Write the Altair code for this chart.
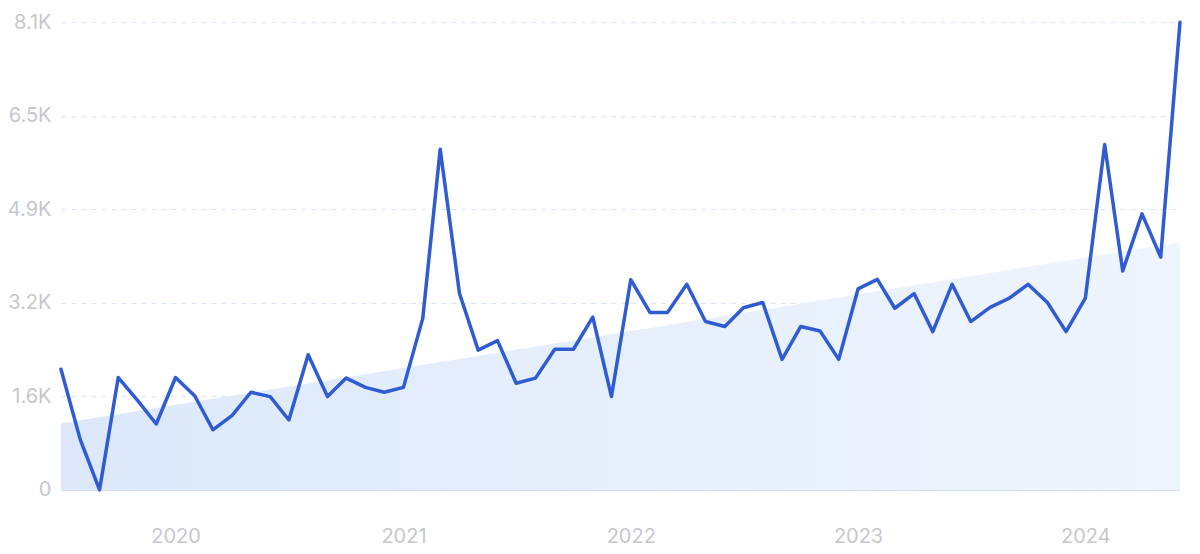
import altair as alt
import pandas as pd

months = [
    "2019-07", "2019-08", "2019-09", "2019-10", "2019-11", "2019-12",
    "2020-01", "2020-02", "2020-03", "2020-04", "2020-05", "2020-06",
    "2020-07", "2020-08", "2020-09", "2020-10", "2020-11", "2020-12",
    "2021-01", "2021-02", "2021-03", "2021-04", "2021-05", "2021-06",
    "2021-07", "2021-08", "2021-09", "2021-10", "2021-11", "2021-12",
    "2022-01", "2022-02", "2022-03", "2022-04", "2022-05", "2022-06",
    "2022-07", "2022-08", "2022-09", "2022-10", "2022-11", "2022-12",
    "2023-01", "2023-02", "2023-03", "2023-04", "2023-05", "2023-06",
    "2023-07", "2023-08", "2023-09", "2023-10", "2023-11", "2023-12",
    "2024-01", "2024-02", "2024-03", "2024-04", "2024-05", "2024-06",
]
volume = [
    2090, 870, 0, 1945, 1550, 1140,
    1945, 1625, 1040, 1290, 1690, 1615,
    1210, 2340, 1615, 1935, 1775, 1690,
    1775, 2970, 5900, 3400, 2420, 2585,
    1845, 1935, 2435, 2435, 2990, 1615,
    3640, 3070, 3070, 3560, 2915, 2830,
    3155, 3245, 2260, 2830, 2750, 2260,
    3480, 3645, 3145, 3400, 2740, 3560,
    2915, 3160, 3320, 3560, 3245, 2740,
    3320, 5980, 3790, 4780, 4030, 8100,
]
trend_months = ["2019-07", "2024-06"]
trend_values = [1150, 4290]
y_ticks = [0, 1620, 3240, 4860, 6480, 8100]
x_tick_years = [2020, 2021, 2022, 2023, 2024]

df = pd.DataFrame({"date": [m + "-01" for m in months], "value": volume})
trend = pd.DataFrame({"date": [m + "-01" for m in trend_months], "value": trend_values})

FONT = "Inter"
LABEL_COLOR = "#c6c7ce"

x_scale = alt.Scale(domain=[alt.DateTime(year=2019, month=7, date=1),
                            alt.DateTime(year=2024, month=6, date=1)], nice=False)
y_scale = alt.Scale(domain=[0, 8100], nice=False, zero=True)

x_axis = alt.Axis(
    title=None,
    values=[alt.DateTime(year=y, month=1, date=1) for y in x_tick_years],
    format="%Y",
    grid=False,
    ticks=False,
    domain=True,
    domainColor="#c9d9f3",
    domainWidth=1,
    labelFont=FONT,
    labelFontSize=20,
    labelColor=LABEL_COLOR,
    labelPadding=37,
)
y_axis = alt.Axis(
    title=None,
    values=y_ticks,
    labelExpr="datum.value == 0 ? '0' : format(datum.value / 1000, '.1f') + 'K'",
    grid=True,
    gridColor="#d7e2f5",
    gridDash=[5, 5],
    gridWidth=1,
    ticks=False,
    domain=False,
    labelFont=FONT,
    labelFontSize=20,
    labelColor=LABEL_COLOR,
    labelPadding=10,
)

area = alt.Chart(trend).mark_area(
    color=alt.Gradient(
        gradient="linear",
        stops=[alt.GradientStop(color="#dce8fa", offset=0),
               alt.GradientStop(color="#eff5fd", offset=1)],
        x1=0, x2=1, y1=0, y2=0,
    ),
    opacity=1,
).encode(
    x=alt.X("date:T", scale=x_scale, axis=x_axis),
    y=alt.Y("value:Q", scale=y_scale, axis=y_axis),
)

line = alt.Chart(df).mark_line(
    color="#2f5bd3", strokeWidth=3.5, strokeJoin="round", strokeCap="round"
).encode(
    x=alt.X("date:T", scale=x_scale),
    y=alt.Y("value:Q", scale=y_scale),
)

chart = alt.layer(area, line).properties(
    width=1120,
    height=468,
    background="white",
    autosize=alt.AutoSizeParams(type="none"),
    padding={"left": 53, "top": 14, "right": 12, "bottom": 60},
).configure_view(stroke=None)

chart.save("out.html", embed_options={"renderer": "svg", "actions": False})
